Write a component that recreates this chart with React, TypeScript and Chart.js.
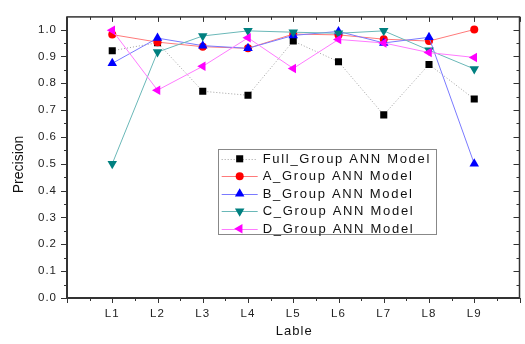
import React, { useEffect, useRef } from "react";
import { Chart, registerables } from "chart.js";

Chart.register(...registerables);

const categories = ["L1", "L2", "L3", "L4", "L5", "L6", "L7", "L8", "L9"];
const fullGroup = [0.921, 0.951, 0.77, 0.755, 0.957, 0.88, 0.682, 0.87, 0.741];
const aGroup = [0.981, 0.953, 0.936, 0.93, 0.983, 0.98, 0.964, 0.957, 1.0];
const bGroup = [0.874, 0.968, 0.94, 0.93, 0.978, 0.993, 0.95, 0.971, 0.5];
const cGroup = [0.5, 0.916, 0.976, 0.995, 0.99, 0.986, 0.995, 0.923, 0.853];
const dGroup = [0.997, 0.774, 0.863, 0.969, 0.855, 0.963, 0.95, 0.914, 0.896];
const yTickValues = [0, 0.1, 0.2, 0.3, 0.4, 0.5, 0.6, 0.7, 0.8, 0.9, 1.0];
const seriesNames = [
  "Full_Group ANN Model",
  "A_Group ANN Model",
  "B_Group ANN Model",
  "C_Group ANN Model",
  "D_Group ANN Model",
];

type Style = {
  marker: string;
  rot: number;
  r: number;
  fill: string;
  line: string;
  dash: number[];
};

const styles: Style[] = [
  { marker: "rect", rot: 0, r: 5, fill: "#000000", line: "#a0a0a0", dash: [1, 2] },
  { marker: "circle", rot: 0, r: 4, fill: "#ff0000", line: "#ff7a7a", dash: [] },
  { marker: "triangle", rot: 0, r: 5.5, fill: "#0000ff", line: "#7a7aff", dash: [] },
  { marker: "triangle", rot: 180, r: 5.5, fill: "#008080", line: "#6ab8b8", dash: [] },
  { marker: "triangle", rot: 270, r: 5.5, fill: "#ff00ff", line: "#ff7aff", dash: [] },
];

const FONT = "'Liberation Sans', Arial, sans-serif";

function drawMarker(ctx: CanvasRenderingContext2D, s: Style, x: number, y: number) {
  ctx.save();
  ctx.fillStyle = s.fill;
  ctx.beginPath();
  if (s.marker === "rect") {
    const h = s.r * Math.SQRT1_2;
    ctx.rect(x - h, y - h, 2 * h, 2 * h);
  } else if (s.marker === "circle") {
    ctx.arc(x, y, s.r, 0, Math.PI * 2);
  } else {
    let rad = (s.rot * Math.PI) / 180;
    for (let i = 0; i < 3; i++) {
      const px = x + Math.sin(rad) * s.r;
      const py = y - Math.cos(rad) * s.r;
      if (i === 0) ctx.moveTo(px, py);
      else ctx.lineTo(px, py);
      rad += (2 * Math.PI) / 3;
    }
    ctx.closePath();
  }
  ctx.fill();
  ctx.restore();
}

const framePlugin = {
  id: "framePlugin",
  beforeDraw(chart: any) {
    const ctx = chart.ctx as any;
    ctx.letterSpacing = "1px";
  },
  afterDraw(chart: any) {
    const ctx = chart.ctx as CanvasRenderingContext2D & { letterSpacing?: string };
    const { left, right, top, bottom } = chart.chartArea;
    const xs = chart.scales.x;
    const ys = chart.scales.y;
    ctx.save();
    ctx.strokeStyle = "#333333";
    ctx.setLineDash([]);
    // ticks
    ctx.lineWidth = 1;
    for (let i = 0; i <= 20; i++) {
      const v = i / 2;
      const px = Math.round(xs.getPixelForValue(v)) + 0.5;
      const len = i % 2 === 0 ? 5 : 3;
      ctx.beginPath();
      ctx.moveTo(px, bottom);
      ctx.lineTo(px, bottom + len);
      ctx.moveTo(px, top);
      ctx.lineTo(px, top + len);
      ctx.stroke();
    }
    for (let i = 0; i <= 21; i++) {
      const v = i * 0.05;
      if (v > ys.max + 1e-9) break;
      const py = Math.round(ys.getPixelForValue(v)) + 0.5;
      const len = i % 2 === 0 ? 6 : 3;
      ctx.beginPath();
      ctx.moveTo(left, py);
      ctx.lineTo(left - len, py);
      ctx.moveTo(right, py);
      ctx.lineTo(right - len, py);
      ctx.stroke();
    }
    // frame
    ctx.lineWidth = 1.5;
    ctx.strokeRect(left, top, right - left, bottom - top);
    ctx.lineWidth = 2;
    ctx.beginPath();
    ctx.moveTo(left, top);
    ctx.lineTo(left, bottom);
    ctx.lineTo(right, bottom);
    ctx.stroke();

    // axis titles
    ctx.fillStyle = "#111111";
    ctx.font = `13px ${FONT}`;
    ctx.textAlign = "center";
    ctx.textBaseline = "middle";
    ctx.letterSpacing = "1px";
    ctx.fillText("Lable", (left + right) / 2 + 1, 331);
    ctx.save();
    ctx.letterSpacing = "0px";
    ctx.font = `14px ${FONT}`;
    ctx.translate(19, (top + bottom) / 2 + 7);
    ctx.rotate(-Math.PI / 2);
    ctx.fillText("Precision", 0, 0);
    ctx.restore();

    // legend
    const w = right - left;
    const h = bottom - top;
    const bx = left + w * 0.333;
    const by = top + h * 0.471;
    const bw = w * 0.482;
    const bh = h * 0.302;
    ctx.fillStyle = "#ffffff";
    ctx.fillRect(bx, by, bw, bh);
    ctx.strokeStyle = "#888888";
    ctx.lineWidth = 1;
    ctx.strokeRect(Math.round(bx) + 0.5, Math.round(by) + 0.5, Math.round(bw), Math.round(bh));
    ctx.font = `13px ${FONT}`;
    ctx.textAlign = "left";
    ctx.textBaseline = "middle";
    ctx.letterSpacing = "1.7px";
    for (let i = 0; i < seriesNames.length; i++) {
      const s = styles[i];
      const yy = by + 9.5 + i * 17.5;
      ctx.strokeStyle = s.line;
      ctx.setLineDash(s.dash);
      ctx.beginPath();
      ctx.moveTo(bx + 4, Math.round(yy) + 0.5);
      ctx.lineTo(bx + 40, Math.round(yy) + 0.5);
      ctx.stroke();
      ctx.setLineDash([]);
      drawMarker(ctx, s, bx + 22, yy);
      ctx.fillStyle = "#111111";
      ctx.fillText(seriesNames[i], bx + 45, yy + 0.5);
    }
    ctx.restore();
  },
};

export default function App() {
  const canvasRef = useRef<HTMLCanvasElement | null>(null);

  useEffect(() => {
    if (!canvasRef.current) return;
    const all = [fullGroup, aGroup, bGroup, cGroup, dGroup];
    const datasets = all.map((vals, i) => {
      const s = styles[i];
      return {
        label: seriesNames[i],
        data: vals.map((v, j) => ({ x: j + 1, y: v })),
        borderColor: s.line,
        borderWidth: 1,
        borderDash: s.dash,
        backgroundColor: s.fill,
        pointBackgroundColor: s.fill,
        pointBorderColor: s.fill,
        pointBorderWidth: 0,
        pointStyle: s.marker,
        pointRotation: s.rot,
        pointRadius: s.r,
        pointHoverRadius: s.r,
        tension: 0,
        fill: false,
        order: 5 - i,
      };
    });
    const chart = new Chart(canvasRef.current, {
      type: "line",
      data: { datasets },
      options: {
        animation: false,
        responsive: false,
        events: [],
        layout: { padding: { top: 7, right: 5, left: 0, bottom: 0 } },
        plugins: { legend: { display: false }, tooltip: { enabled: false } },
        scales: {
          x: {
            type: "linear",
            min: 0,
            max: 10,
            afterBuildTicks: (s: any) => {
              s.ticks = categories.map((_, j) => ({ value: j + 1 }));
            },
            afterFit: (s: any) => {
              s.height = 46;
            },
            grid: { display: false, drawTicks: false },
            border: { display: false },
            ticks: {
              autoSkip: false,
              maxRotation: 0,
              padding: 9,
              color: "#222222",
              font: { family: FONT, size: 11.5 },
              callback: (v: any) => {
                const idx = Math.round(Number(v)) - 1;
                return categories[idx] ?? "";
              },
            },
          },
          y: {
            type: "linear",
            min: 0,
            max: 1.047,
            afterBuildTicks: (s: any) => {
              s.ticks = yTickValues.map((v) => ({ value: v }));
            },
            afterFit: (s: any) => {
              s.width = 67;
            },
            grid: { display: false, drawTicks: false },
            border: { display: false },
            ticks: {
              padding: 10,
              color: "#222222",
              font: { family: FONT, size: 11.5 },
              callback: (v: any) => Number(v).toFixed(1),
            },
          },
        },
      },
      plugins: [framePlugin],
    } as any);
    return () => chart.destroy();
  }, []);

  return (
    <div style={{ position: "fixed", left: 0, top: 0, width: 525, height: 344, background: "#fff" }}>
      <canvas ref={canvasRef} width={525} height={344} style={{ display: "block" }} />
    </div>
  );
}
